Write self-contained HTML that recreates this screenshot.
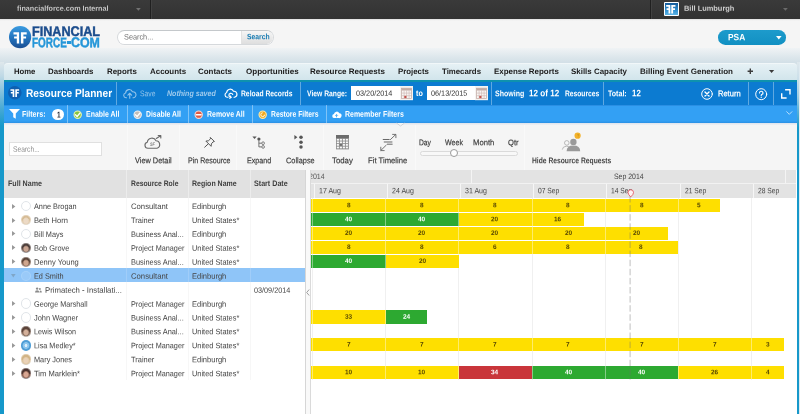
<!DOCTYPE html>
<html><head><meta charset="utf-8"><title>Resource Planner</title>
<style>
html,body{margin:0;padding:0;}
body{width:800px;height:414px;position:relative;overflow:hidden;background:#fff;font-family:"Liberation Sans", sans-serif;}
.t{position:absolute;white-space:pre;transform-origin:0 50%;font-family:"Liberation Sans", sans-serif;}
div{box-sizing:border-box;}
svg{position:absolute;overflow:visible;}
</style></head><body>
<div style="position:absolute;left:0px;top:0px;width:800px;height:19.0px;background:linear-gradient(#3a3a3a,#323232);"></div>
<div style="position:absolute;left:150px;top:0px;width:1px;height:19px;background:#202020;"></div>
<div style="position:absolute;left:151px;top:0px;width:1px;height:19px;background:#424242;"></div>
<div style="position:absolute;left:650px;top:0px;width:1px;height:19px;background:#202020;"></div>
<div style="position:absolute;left:651px;top:0px;width:1px;height:19px;background:#424242;"></div>
<div style="position:absolute;left:0px;top:19.0px;width:800px;height:29.2px;background:linear-gradient(#dcdcdc 0,#f1f1f1 1.2px,#f5f5f5 2.5px,#f5f5f5 100%);"></div>
<div style="position:absolute;left:0px;top:48.2px;width:800px;height:33px;background:linear-gradient(#f0f3f5 0,#dde7ec 9px,#d3e0e7 14.5px,#d3e0e7 100%);"></div>
<div style="position:absolute;left:0px;top:62px;width:4.1px;height:352px;background:linear-gradient(to bottom,#dfe8ec 0px,#bfd9e6 14px,#8cc4de 28px,#4aaad5 46px,#1698ca 64px,#1698ca 100%);"></div>
<div style="position:absolute;left:797.0px;top:62px;width:2.4px;height:352px;background:linear-gradient(to bottom,#dfe8ec 0px,#c9dfea 18px,#9fcde2 34px,#55afd7 50px,#1698ca 66px,#1698ca 100%);"></div>
<div style="position:absolute;left:799.2px;top:62px;width:1px;height:352px;background:#dfeaf0;"></div>
<div style="position:absolute;left:4px;top:62.6px;width:792.7px;height:18px;background:linear-gradient(#e6f1f5,#d0e4eb);border-radius:4px 4px 0 0;border-top:1px solid #f1f7f9;"></div>
<div style="position:absolute;left:4px;top:80.1px;width:792.7px;height:1.7px;background:#0e92ae;"></div>
<div style="position:absolute;left:4.1px;top:81.6px;width:792.9px;height:23.1px;background:#0c7bd1;"></div>
<div style="position:absolute;left:4.1px;top:104.7px;width:792.9px;height:18.6px;background:linear-gradient(#33a0f4 0,#33a0f4 88%,#2b90e4 100%);"></div>
<div style="position:absolute;left:4.1px;top:104.5px;width:792.9px;height:0.8px;background:#2a8fe4;"></div>
<div style="position:absolute;left:4.1px;top:123.3px;width:792.9px;height:47px;background:#f5f5f5;"></div>
<div style="position:absolute;left:4.1px;top:123.3px;width:792.9px;height:1.6px;background:linear-gradient(#dde3ec,#f0f1f3);"></div>
<div style="position:absolute;left:4.1px;top:170px;width:300.9px;height:27.8px;background:#e1e1e1;"></div>
<div style="position:absolute;left:4.1px;top:197.8px;width:300.9px;height:216.2px;background:#fff;"></div>
<div style="position:absolute;left:305px;top:170px;width:5.6px;height:244px;background:#f9f9f9;border-left:1px solid #d6d6d6;border-right:1px solid #dadada;"></div>
<div style="position:absolute;left:310.5px;top:170px;width:485.4px;height:13.3px;background:#e3e3e3;"></div>
<div style="position:absolute;left:310.5px;top:183.3px;width:485.4px;height:14.5px;background:#e3e3e3;border-top:1px solid #f2f2f2;"></div>
<div style="position:absolute;left:310.5px;top:197.8px;width:486.5px;height:216.2px;background:#fff;"></div>
<svg style="left:135.6px;top:7.8px" width="5" height="3"><path d="M0,0H4.8L2.4,2.8Z" fill="#727272"/></svg>
<svg style="left:783.4px;top:7.8px" width="5" height="3"><path d="M0,0H4.8L2.4,2.8Z" fill="#6a6a6a"/></svg>
<div style="position:absolute;left:663.6px;top:1.6px;width:15.2px;height:14.6px;background:#fff;border-radius:1px;"></div>
<div style="position:absolute;left:664.7px;top:2.7px;width:13px;height:12.4px;background:linear-gradient(#155a99,#2f8fd0 60%,#5cb4e6);"></div>
<svg style="left:666.4px;top:4.6px" width="9.6" height="8.6" viewBox="0 0 13.4 12.4"><g fill="#fff"><path d="M7.4,0h6v2.6h-3.4v2.1h2.8v2.5h-2.8v5.2h-2.6z"/><path d="M6,0h-6v2.6h3.4v2.1h-2.8v2.5h2.8v5.2h2.6z"/></g></svg>
<svg style="left:8.7px;top:25.8px" width="22.2" height="22.2" viewBox="0 0 22.2 22.2">
<defs><linearGradient id="lg1" x1="0" y1="0" x2="0" y2="1"><stop offset="0" stop-color="#3a9be0"/><stop offset="0.55" stop-color="#2273bd"/><stop offset="1" stop-color="#1b4f93"/></linearGradient></defs>
<circle cx="11.1" cy="11.1" r="11.1" fill="url(#lg1)"/>
<g fill="#fff"><path d="M11.9,6.2h5.8v2.3h-3.3v1.9h2.7v2.2h-2.7v4.9h-2.5z"/><path d="M10.3,6.2h-5.8v2.3h3.3v1.9h-2.7v2.2h2.7v4.9h2.5z"/></g>
<path d="M10.6,4.5v13.8" stroke="#2b7fc8" stroke-width="0.7"/>
</svg>
<div style="position:absolute;left:67.4px;top:41.2px;width:3.4px;height:2.6px;background:#2596d8;"></div>
<div style="position:absolute;left:117.3px;top:29.8px;width:156.7px;height:14.8px;background:#fff;border:1px solid #d6d9dc;border-top-color:#c4c8cb;border-radius:7.4px;box-shadow:0 1px 0 #f8f8f8;"></div>
<div style="position:absolute;left:241px;top:30.6px;width:32.2px;height:13.2px;background:linear-gradient(#f6f6f6,#dedede);border-radius:0 6.6px 6.6px 0;border-left:1px solid #e2e2e2;"></div>
<div style="position:absolute;left:717.5px;top:30px;width:68.3px;height:14.6px;background:linear-gradient(#1d9bcc,#1290c2);border-radius:7.3px;"></div>
<svg style="left:776.3px;top:35.6px" width="6" height="4"><path d="M0,0H5.6L2.8,3.4Z" fill="#fff"/></svg>
<svg style="left:746.5px;top:68.2px" width="7" height="7"><path d="M3.3,0.6V6M0.6,3.3H6" stroke="#3c3c3c" stroke-width="1.4"/></svg>
<svg style="left:769.4px;top:70px" width="6" height="4"><path d="M0,0H5.2L2.6,3Z" fill="#3a3a3a"/></svg>
<svg style="left:8px;top:86px" width="13.6" height="13.6" viewBox="0 0 22.2 22.2">
<circle cx="11.1" cy="11.1" r="11.1" fill="#0f5fb0"/>
<g fill="#fff"><path d="M11.9,5.2h6.3v2.6h-3.6v2.1h3v2.5h-3v5.6h-2.7z"/><path d="M10.3,5.2h-6.3v2.6h3.6v2.1h-3v2.5h3v5.6h2.7z"/></g>
</svg>
<div style="position:absolute;left:115.7px;top:81.5px;width:1px;height:23.0px;background:rgba(255,255,255,0.35);"></div>
<svg style="left:122.5px;top:88.2px;opacity:.55" width="13.5" height="11" viewBox="0 0 27 22" fill="none" stroke="#fff" stroke-width="2.2" stroke-linejoin="round" stroke-linecap="round">
<path d="M7,19.5H6A4.8,4.8 0 0 1 5.3,10A7,7 0 0 1 18.8,7.6A6,6 0 0 1 21,19.5H20"/><path d="M13.5,20.5V11M9.8,14.2L13.5,10.5L17.2,14.2"/></svg>
<svg style="left:223.5px;top:87.6px" width="13.8" height="12" viewBox="0 0 27.6 24" fill="none" stroke="#fff" stroke-width="2.3" stroke-linejoin="round" stroke-linecap="round">
<path d="M8,18.5H6.2A4.9,4.9 0 0 1 5.4,9A7.1,7.1 0 0 1 19,6.6A6.1,6.1 0 0 1 21.5,18.5H20"/><path d="M17.5,13A4,4 0 1 0 14,18.5"/><path d="M11.5,20.8L14.3,18.6L12.2,15.8" /></svg>
<div style="position:absolute;left:300.0px;top:81.5px;width:1px;height:23.0px;background:rgba(255,255,255,0.35);"></div>
<div style="position:absolute;left:351.2px;top:86px;width:48.6px;height:14.2px;background:#fff;"></div>
<svg style="left:399.6px;top:86px" width="13" height="14.2" viewBox="0 0 13 14.2">
<rect x="0" y="0" width="13" height="14.2" fill="#f6f3f1"/>
<rect x="1.6" y="2.2" width="10" height="10.2" fill="#faf6f4" stroke="#bfa8a3" stroke-width="0.7"/>
<rect x="1.6" y="2.2" width="10" height="2.3" fill="#c2aca6"/>
<path d="M4.1,4.5V12.4M6.6,4.5V12.4M9.1,4.5V12.4M1.6,7.1H11.6M1.6,9.7H11.6" stroke="#c9b3ae" stroke-width="0.6"/>
<rect x="4.3" y="9.9" width="2.1" height="2.2" fill="#c4504a"/>
</svg>
<div style="position:absolute;left:426.9px;top:86px;width:48.7px;height:14.2px;background:#fff;"></div>
<svg style="left:475.4px;top:86px" width="13" height="14.2" viewBox="0 0 13 14.2">
<rect x="0" y="0" width="13" height="14.2" fill="#f6f3f1"/>
<rect x="1.6" y="2.2" width="10" height="10.2" fill="#faf6f4" stroke="#bfa8a3" stroke-width="0.7"/>
<rect x="1.6" y="2.2" width="10" height="2.3" fill="#c2aca6"/>
<path d="M4.1,4.5V12.4M6.6,4.5V12.4M9.1,4.5V12.4M1.6,7.1H11.6M1.6,9.7H11.6" stroke="#c9b3ae" stroke-width="0.6"/>
<rect x="4.3" y="9.9" width="2.1" height="2.2" fill="#c4504a"/>
</svg>
<div style="position:absolute;left:490.7px;top:81.5px;width:1px;height:23.0px;background:rgba(255,255,255,0.35);"></div>
<div style="position:absolute;left:603.1px;top:81.5px;width:1px;height:23.0px;background:rgba(255,255,255,0.35);"></div>
<svg style="left:700.6px;top:88.2px" width="12" height="12" viewBox="0 0 12 12" fill="none" stroke="#fff" stroke-linecap="round">
<circle cx="6" cy="6" r="5.3" stroke-width="1"/><path d="M4,4L8,8M8,4L4,8" stroke-width="1.4"/></svg>
<div style="position:absolute;left:748.0px;top:81.5px;width:1px;height:23.0px;background:rgba(255,255,255,0.35);"></div>
<svg style="left:754.9px;top:87.8px" width="12.4" height="12.4" viewBox="0 0 12.6 12.6" fill="none" stroke="#fff" stroke-linecap="round">
<circle cx="6.3" cy="6.3" r="5.6" stroke-width="1"/><path d="M4.6,5.1A1.75,1.75 0 1 1 6.9,6.7Q6.3,7 6.3,7.8" stroke-width="1.1"/><circle cx="6.3" cy="9.6" r="0.6" fill="#fff" stroke="none"/></svg>
<div style="position:absolute;left:772.7px;top:81.5px;width:1px;height:23.0px;background:rgba(255,255,255,0.35);"></div>
<svg style="left:780.8px;top:89.1px" width="9.7" height="9.7" viewBox="0 0 10.4 10.4" fill="none" stroke="#fff" stroke-width="1.5">
<path d="M4.4,0.75H9.65V6"/><path d="M0.75,4.6V9.65H6"/></svg>
<svg style="left:8.9px;top:108.8px" width="11" height="9.8" viewBox="0 0 10.4 9.8" preserveAspectRatio="none"><path d="M0,0H10.4L6.4,4.6V9.8L4,8.2V4.6Z" fill="#fff"/></svg>
<div style="position:absolute;left:52.1px;top:108.9px;width:11.8px;height:11.6px;background:#fff;border-radius:6px;"></div>
<div style="position:absolute;left:67.0px;top:105px;width:1px;height:18.299999999999997px;background:rgba(255,255,255,0.38);"></div>
<svg style="left:73.2px;top:109.8px" width="9.4" height="9.4" viewBox="0 0 9.4 9.4"><circle cx="4.7" cy="4.7" r="3.65" fill="#86c440" stroke="#e6f2b0" stroke-width="1.15"/><path d="M2.5,4.8L4.1,6.5L7,3" fill="none" stroke="#fff" stroke-width="1.3" stroke-linecap="round" stroke-linejoin="round"/></svg>
<div style="position:absolute;left:127.0px;top:105px;width:1px;height:18.299999999999997px;background:rgba(255,255,255,0.38);"></div>
<svg style="left:132.9px;top:109.8px" width="9.4" height="9.4" viewBox="0 0 9.4 9.4"><circle cx="4.7" cy="4.7" r="3.65" fill="#c4bcb6" stroke="#e9eef4" stroke-width="1.15"/><path d="M2.5,4.8L4.1,6.5L7,3" fill="none" stroke="#fff" stroke-width="1.3" stroke-linecap="round" stroke-linejoin="round"/></svg>
<div style="position:absolute;left:187.7px;top:105px;width:1px;height:18.299999999999997px;background:rgba(255,255,255,0.38);"></div>
<svg style="left:194.4px;top:109.8px" width="9.4" height="9.4" viewBox="0 0 9.4 9.4"><circle cx="4.7" cy="4.7" r="3.65" fill="#e05a45" stroke="#f8d8d0" stroke-width="1.15"/><path d="M2.4,4.7H7" stroke="#fff" stroke-width="1.5" stroke-linecap="round"/></svg>
<div style="position:absolute;left:252.0px;top:105px;width:1px;height:18.299999999999997px;background:rgba(255,255,255,0.38);"></div>
<svg style="left:258px;top:109.8px" width="9.4" height="9.4" viewBox="0 0 9.4 9.4"><circle cx="4.7" cy="4.7" r="3.65" fill="#f2a81e" stroke="#fbe9a8" stroke-width="1.15"/><path d="M6.6,4.7A1.9,1.9 0 1 1 4.7,2.8" fill="none" stroke="#fff7e0" stroke-width="1"/></svg>
<div style="position:absolute;left:326.1px;top:105px;width:1px;height:18.299999999999997px;background:rgba(255,255,255,0.38);"></div>
<svg style="left:332.2px;top:110.5px" width="9.1" height="7.2" viewBox="0 0 19.6 15.2"><path d="M5,15.2A4.6,4.6 0 0 1 4.2,6.1A6.2,6.2 0 0 1 15.8,4.6A5.3,5.3 0 0 1 15,15.2Z" fill="#fff"/><path d="M9.8,13.5V8M7,10L9.8,7.2L12.6,10" fill="none" stroke="#33a0f4" stroke-width="1.8"/></svg>
<svg style="left:785.8px;top:111px" width="6.6" height="4.2" viewBox="0 0 8 5"><path d="M0.5,0.5L4,4L7.5,0.5" fill="none" stroke="rgba(255,255,255,.7)" stroke-width="1.1"/></svg>
<svg style="left:396px;top:123.3px" width="9" height="4" viewBox="0 0 9 4"><path d="M0.5,0L4.5,3L8.5,0" fill="#f5f5f5" stroke="#c9ccd0" stroke-width="0.8"/></svg>
<div style="position:absolute;left:127.1px;top:124.5px;width:1px;height:45.5px;background:#f9f9f9;"></div>
<div style="position:absolute;left:178.7px;top:124.5px;width:1px;height:45.5px;background:#f9f9f9;"></div>
<div style="position:absolute;left:235.7px;top:124.5px;width:1px;height:45.5px;background:#f9f9f9;"></div>
<div style="position:absolute;left:323.2px;top:124.5px;width:1px;height:45.5px;background:#f9f9f9;"></div>
<div style="position:absolute;left:414.5px;top:124.5px;width:1px;height:45.5px;background:#f9f9f9;"></div>
<div style="position:absolute;left:523.7px;top:124.5px;width:1px;height:45.5px;background:#f9f9f9;"></div>
<div style="position:absolute;left:9.2px;top:142.2px;width:92.6px;height:14.2px;background:#fff;border:1px solid #e0e0e0;"></div>
<div style="position:absolute;left:419.5px;top:150.6px;width:98.2px;height:5px;background:#f8f8f8;border:1px solid #dadada;border-radius:2.5px;"></div>
<div style="position:absolute;left:449.8px;top:149.2px;width:8px;height:8px;background:#fff;border:1.7px solid #9a9a9a;border-radius:4px;"></div>
<svg style="left:144.4px;top:135px" width="17.6" height="14" viewBox="0 0 17.6 14" fill="none" stroke="#6a6a6a" stroke-width="1.15" stroke-linecap="round" stroke-linejoin="round">
<path d="M3.9,13.3A3.1,3.1 0 0 1 3.3,7.2A4.6,4.6 0 0 1 12,5.7A3.9,3.9 0 0 1 13,13.3Z"/>
<path d="M12.3,3.5L16.6,0.7M14.2,0.5H16.8V3"/>
</svg>
<svg style="left:203.4px;top:136.6px" width="12" height="11" viewBox="0 0 12 11" fill="none" stroke="#555" stroke-width="1" stroke-linejoin="round" stroke-linecap="round">
<path d="M7.6,0.7L11.4,4.5L10,4.9L8.4,6.8L8.1,9.3L2.9,4.1L5.4,3.8L7.2,2.1Z"/><path d="M5.2,6.9L1.7,10.2"/></svg>
<svg style="left:251.6px;top:135.6px" width="14" height="13" viewBox="0 0 14 13">
<path d="M0.4,0.5H4.7L2.55,3.1Z" fill="#555"/>
<circle cx="6.9" cy="3.0" r="1.6" fill="#555"/>
<path d="M6.9,4V10.9H9.7M6.9,7.2H9.7" fill="none" stroke="#707070" stroke-width="1"/>
<circle cx="11.1" cy="7.2" r="1.35" fill="none" stroke="#707070" stroke-width="0.9"/><circle cx="11.1" cy="10.9" r="1.35" fill="none" stroke="#707070" stroke-width="0.9"/></svg>
<svg style="left:293.6px;top:135.4px" width="10" height="14" viewBox="0 0 10 14">
<path d="M0.4,0.1V4.6L3.4,2.35Z" fill="#555"/>
<circle cx="7" cy="2.3" r="1.75" fill="#555"/><circle cx="7" cy="7.2" r="1.75" fill="#555"/><circle cx="7" cy="12.1" r="1.75" fill="#555"/></svg>
<svg style="left:335.9px;top:135.2px" width="12.9" height="14.4" viewBox="0 0 12.9 14.4">
<rect x="0" y="0" width="12.9" height="14.4" fill="#8e8e8e"/>
<rect x="0" y="0" width="12.9" height="3.2" fill="#6c6c6c"/>
<rect x="0.85" y="3.90" width="2.1" height="1.7" fill="#fafafa"/><rect x="3.85" y="3.90" width="2.1" height="1.7" fill="#fafafa"/><rect x="6.85" y="3.90" width="2.1" height="1.7" fill="#fafafa"/><rect x="9.85" y="3.90" width="2.1" height="1.7" fill="#fafafa"/><rect x="0.85" y="6.48" width="2.1" height="1.7" fill="#fafafa"/><rect x="3.85" y="6.48" width="2.1" height="1.7" fill="#fafafa"/><rect x="6.85" y="6.48" width="2.1" height="1.7" fill="#fafafa"/><rect x="9.85" y="6.48" width="2.1" height="1.7" fill="#fafafa"/><rect x="0.85" y="9.06" width="2.1" height="1.7" fill="#fafafa"/><rect x="3.85" y="9.06" width="2.1" height="1.7" fill="#707070"/><rect x="6.85" y="9.06" width="2.1" height="1.7" fill="#fafafa"/><rect x="9.85" y="9.06" width="2.1" height="1.7" fill="#fafafa"/><rect x="0.85" y="11.64" width="2.1" height="1.7" fill="#fafafa"/><rect x="3.85" y="11.64" width="2.1" height="1.7" fill="#fafafa"/><rect x="6.85" y="11.64" width="2.1" height="1.7" fill="#fafafa"/><rect x="9.85" y="11.64" width="2.1" height="1.7" fill="#fafafa"/>
</svg>
<svg style="left:379.8px;top:134.2px" width="17" height="17.4" viewBox="0 0 17 17.4" fill="none" stroke="#666" stroke-width="0.9" stroke-linecap="round" stroke-linejoin="round">
<path d="M10.4,5.6L15.7,0.5M12.6,0.4H15.9V3.7"/>
<path d="M6.2,11.2L0.9,16.4M0.8,13.2V16.6H4.2"/>
<path d="M3.2,5.5H9.2M4.2,8H12M7.4,10.2H12.2" stroke-width="1"/></svg>
<svg style="left:561px;top:133px" width="22" height="19" viewBox="0 0 22 19">
<circle cx="5.8" cy="9.9" r="2.3" fill="#f6f6f6" stroke="#a8a8a8" stroke-width="0.8"/>
<path d="M1.3,16.6Q1.5,13.4 5.6,13.2Q8,13.3 9.2,14.6" fill="#f6f6f6" stroke="#a8a8a8" stroke-width="0.8"/>
<circle cx="12.4" cy="8.9" r="3.2" fill="#9a9a9a"/>
<path d="M5.6,18.3Q5.6,12.6 12.4,12.6Q19.2,12.6 19.2,18.3Z" fill="#9a9a9a"/>
<circle cx="16.6" cy="2.7" r="3.1" fill="#f3b22b"/>
</svg>
<div style="position:absolute;left:126.0px;top:170px;width:1px;height:27.8px;background:#ececec;"></div>
<div style="position:absolute;left:187.7px;top:170px;width:1px;height:27.8px;background:#ececec;"></div>
<div style="position:absolute;left:249.7px;top:170px;width:1px;height:27.8px;background:#ececec;"></div>
<div style="position:absolute;left:126.0px;top:197.8px;width:1px;height:182px;background:#f7f7f7;"></div>
<div style="position:absolute;left:187.7px;top:197.8px;width:1px;height:182px;background:#f7f7f7;"></div>
<div style="position:absolute;left:249.7px;top:197.8px;width:1px;height:182px;background:#f7f7f7;"></div>
<svg style="left:12.2px;top:203.57px" width="4" height="6"><path d="M0,0V5L3.4,2.5Z" fill="#999"/></svg>
<div style="position:absolute;left:20.7px;top:200.965px;width:10.4px;height:10.4px;background:#fff;border:1px solid #e1e5e9;border-radius:5.2px;"></div>
<svg style="left:12.2px;top:217.50px" width="4" height="6"><path d="M0,0V5L3.4,2.5Z" fill="#999"/></svg>
<div style="position:absolute;left:20.7px;top:214.895px;width:10.4px;height:10.4px;background:radial-gradient(ellipse 3.3px 3.7px at 50% 60%,#ecdac6 0 60%,#e3cfb2 92%,transparent 100%),linear-gradient(#d6bc96 0 48%,#e3cfb2 62%,#cdbfae 100%);border-radius:5.2px;box-shadow:inset 0 0 0 0.7px rgba(255,255,255,0.4);"></div>
<svg style="left:12.2px;top:231.43px" width="4" height="6"><path d="M0,0V5L3.4,2.5Z" fill="#999"/></svg>
<div style="position:absolute;left:20.7px;top:228.82500000000002px;width:10.4px;height:10.4px;background:#fff;border:1px solid #e1e5e9;border-radius:5.2px;"></div>
<svg style="left:12.2px;top:245.36px" width="4" height="6"><path d="M0,0V5L3.4,2.5Z" fill="#999"/></svg>
<div style="position:absolute;left:20.7px;top:242.755px;width:10.4px;height:10.4px;background:radial-gradient(ellipse 3.3px 3.7px at 50% 60%,#c9a592 0 60%,#7a6258 92%,transparent 100%),linear-gradient(#4e403c 0 48%,#7a6258 62%,#6f747c 100%);border-radius:5.2px;box-shadow:inset 0 0 0 0.7px rgba(255,255,255,0.4);"></div>
<svg style="left:12.2px;top:259.29px" width="4" height="6"><path d="M0,0V5L3.4,2.5Z" fill="#999"/></svg>
<div style="position:absolute;left:20.7px;top:256.685px;width:10.4px;height:10.4px;background:radial-gradient(ellipse 3.3px 3.7px at 50% 60%,#cfa68e 0 60%,#8a6a58 92%,transparent 100%),linear-gradient(#5c463a 0 48%,#8a6a58 62%,#80706a 100%);border-radius:5.2px;box-shadow:inset 0 0 0 0.7px rgba(255,255,255,0.4);"></div>
<div style="position:absolute;left:4.1px;top:268.30000000000007px;width:300.9px;height:13.93px;background:#8fc5f8;"></div>
<div style="position:absolute;left:126.0px;top:268.30000000000007px;width:1px;height:13.93px;background:#a0cdf9;"></div>
<div style="position:absolute;left:187.7px;top:268.30000000000007px;width:1px;height:13.93px;background:#a0cdf9;"></div>
<div style="position:absolute;left:249.7px;top:268.30000000000007px;width:1px;height:13.93px;background:#a0cdf9;"></div>
<svg style="left:11.2px;top:274.31px" width="5" height="4"><path d="M0,0H4.6L2.3,3.4Z" fill="#7fa6c8"/></svg>
<div style="position:absolute;left:20.7px;top:270.615px;width:10.4px;height:10.4px;background:rgba(255,255,255,0.10);border:1px solid rgba(255,255,255,0.12);border-radius:5.2px;"></div>
<svg style="left:35.2px;top:286.64px" width="6.8" height="6" viewBox="0 0 6.4 5.6" fill="#8a8a8a"><circle cx="2" cy="1.5" r="1.1"/><path d="M0,5.2Q0,3 2,3Q4,3 4,5.2Z"/><circle cx="4.6" cy="1.9" r="0.9"/><path d="M4.2,5.2Q4.4,3.4 5.2,3.3Q6.4,3.4 6.4,5.2Z"/></svg>
<svg style="left:12.2px;top:301.07px" width="4" height="6"><path d="M0,0V5L3.4,2.5Z" fill="#999"/></svg>
<div style="position:absolute;left:20.7px;top:298.47499999999997px;width:10.4px;height:10.4px;background:#fff;border:1px solid #e1e5e9;border-radius:5.2px;"></div>
<svg style="left:12.2px;top:315.00px" width="4" height="6"><path d="M0,0V5L3.4,2.5Z" fill="#999"/></svg>
<div style="position:absolute;left:20.7px;top:312.405px;width:10.4px;height:10.4px;background:#fff;border:1px solid #e1e5e9;border-radius:5.2px;"></div>
<svg style="left:12.2px;top:328.94px" width="4" height="6"><path d="M0,0V5L3.4,2.5Z" fill="#999"/></svg>
<div style="position:absolute;left:20.7px;top:326.335px;width:10.4px;height:10.4px;background:radial-gradient(ellipse 3.3px 3.7px at 50% 60%,#d4b09a 0 60%,#8a6e5e 92%,transparent 100%),linear-gradient(#5a4238 0 48%,#8a6e5e 62%,#a09890 100%);border-radius:5.2px;box-shadow:inset 0 0 0 0.7px rgba(255,255,255,0.4);"></div>
<svg style="left:12.2px;top:342.87px" width="4" height="6"><path d="M0,0V5L3.4,2.5Z" fill="#999"/></svg>
<div style="position:absolute;left:20.7px;top:340.265px;width:10.4px;height:10.4px;background:radial-gradient(circle at 50% 50%,#dff0fb 0 1.1px,#8cc6ee 1.7px 3px,#4f9ed6 3.7px);border-radius:5.2px;"></div>
<svg style="left:12.2px;top:356.79px" width="4" height="6"><path d="M0,0V5L3.4,2.5Z" fill="#999"/></svg>
<div style="position:absolute;left:20.7px;top:354.19499999999994px;width:10.4px;height:10.4px;background:radial-gradient(ellipse 3.3px 3.7px at 50% 60%,#ead2b8 0 60%,#e0c8a4 92%,transparent 100%),linear-gradient(#d2b486 0 48%,#e0c8a4 62%,#c4b4a0 100%);border-radius:5.2px;box-shadow:inset 0 0 0 0.7px rgba(255,255,255,0.4);"></div>
<svg style="left:12.2px;top:370.73px" width="4" height="6"><path d="M0,0V5L3.4,2.5Z" fill="#999"/></svg>
<div style="position:absolute;left:20.7px;top:368.125px;width:10.4px;height:10.4px;background:radial-gradient(ellipse 3.3px 3.7px at 50% 60%,#d8a692 0 60%,#946a5a 92%,transparent 100%),linear-gradient(#4c3430 0 48%,#946a5a 62%,#5e5458 100%);border-radius:5.2px;box-shadow:inset 0 0 0 0.7px rgba(255,255,255,0.4);"></div>
<svg style="left:305.8px;top:288.6px" width="4" height="7"><path d="M3.2,0.5L0.7,3.5L3.2,6.5" fill="none" stroke="#888" stroke-width="0.8"/></svg>
<div style="position:absolute;left:470.6px;top:170px;width:1px;height:13.3px;background:#f4f4f4;"></div>
<div style="position:absolute;left:785.3px;top:170px;width:1px;height:13.3px;background:#f4f4f4;"></div>
<div style="position:absolute;left:313.64px;top:184px;width:1px;height:13.8px;background:#f6f6f6;"></div>
<div style="position:absolute;left:312.0px;top:197.8px;width:1px;height:182px;background:#f0f0f0;"></div>
<div style="position:absolute;left:386.84999999999997px;top:184px;width:1px;height:13.8px;background:#f6f6f6;"></div>
<div style="position:absolute;left:385.17px;top:197.8px;width:1px;height:182px;background:#f0f0f0;"></div>
<div style="position:absolute;left:460.05999999999995px;top:184px;width:1px;height:13.8px;background:#f6f6f6;"></div>
<div style="position:absolute;left:458.34000000000003px;top:197.8px;width:1px;height:182px;background:#f0f0f0;"></div>
<div style="position:absolute;left:533.27px;top:184px;width:1px;height:13.8px;background:#f6f6f6;"></div>
<div style="position:absolute;left:531.51px;top:197.8px;width:1px;height:182px;background:#f0f0f0;"></div>
<div style="position:absolute;left:606.48px;top:184px;width:1px;height:13.8px;background:#f6f6f6;"></div>
<div style="position:absolute;left:604.6800000000001px;top:197.8px;width:1px;height:182px;background:#f0f0f0;"></div>
<div style="position:absolute;left:679.6899999999999px;top:184px;width:1px;height:13.8px;background:#f6f6f6;"></div>
<div style="position:absolute;left:677.85px;top:197.8px;width:1px;height:182px;background:#f0f0f0;"></div>
<div style="position:absolute;left:752.9px;top:184px;width:1px;height:13.8px;background:#f6f6f6;"></div>
<div style="position:absolute;left:751.02px;top:197.8px;width:1px;height:182px;background:#f0f0f0;"></div>
<div style="position:absolute;left:310.5px;top:198.87px;width:75.17000000000002px;height:13.3px;background:#fedf00;"></div>
<div style="position:absolute;left:312.1px;top:198.87px;width:0.9px;height:13.3px;background:rgba(255,255,255,0.42);"></div>
<div style="position:absolute;left:385.67px;top:198.87px;width:73.17000000000002px;height:13.3px;background:#fedf00;"></div>
<div style="position:absolute;left:385.27000000000004px;top:198.87px;width:0.9px;height:13.3px;background:rgba(255,255,255,0.42);"></div>
<div style="position:absolute;left:458.84000000000003px;top:198.87px;width:73.16999999999996px;height:13.3px;background:#fedf00;"></div>
<div style="position:absolute;left:458.44000000000005px;top:198.87px;width:0.9px;height:13.3px;background:rgba(255,255,255,0.42);"></div>
<div style="position:absolute;left:532.01px;top:198.87px;width:73.17000000000007px;height:13.3px;background:#fedf00;"></div>
<div style="position:absolute;left:531.61px;top:198.87px;width:0.9px;height:13.3px;background:rgba(255,255,255,0.42);"></div>
<div style="position:absolute;left:605.1800000000001px;top:198.87px;width:73.16999999999996px;height:13.3px;background:#fedf00;"></div>
<div style="position:absolute;left:604.7800000000001px;top:198.87px;width:0.9px;height:13.3px;background:rgba(255,255,255,0.42);"></div>
<div style="position:absolute;left:678.35px;top:198.87px;width:41.64999999999998px;height:13.3px;background:#fedf00;"></div>
<div style="position:absolute;left:677.95px;top:198.87px;width:0.9px;height:13.3px;background:rgba(255,255,255,0.42);"></div>
<div style="position:absolute;left:310.5px;top:212.8px;width:75.17000000000002px;height:13.3px;background:#2da931;"></div>
<div style="position:absolute;left:312.1px;top:212.8px;width:0.9px;height:13.3px;background:rgba(255,255,255,0.42);"></div>
<div style="position:absolute;left:385.67px;top:212.8px;width:73.17000000000002px;height:13.3px;background:#2da931;"></div>
<div style="position:absolute;left:385.27000000000004px;top:212.8px;width:0.9px;height:13.3px;background:rgba(255,255,255,0.42);"></div>
<div style="position:absolute;left:458.84000000000003px;top:212.8px;width:73.16999999999996px;height:13.3px;background:#fedf00;"></div>
<div style="position:absolute;left:458.44000000000005px;top:212.8px;width:0.9px;height:13.3px;background:rgba(255,255,255,0.42);"></div>
<div style="position:absolute;left:532.01px;top:212.8px;width:51.99000000000001px;height:13.3px;background:#fedf00;"></div>
<div style="position:absolute;left:531.61px;top:212.8px;width:0.9px;height:13.3px;background:rgba(255,255,255,0.42);"></div>
<div style="position:absolute;left:310.5px;top:226.73000000000002px;width:75.17000000000002px;height:13.3px;background:#fedf00;"></div>
<div style="position:absolute;left:312.1px;top:226.73000000000002px;width:0.9px;height:13.3px;background:rgba(255,255,255,0.42);"></div>
<div style="position:absolute;left:385.67px;top:226.73000000000002px;width:73.17000000000002px;height:13.3px;background:#fedf00;"></div>
<div style="position:absolute;left:385.27000000000004px;top:226.73000000000002px;width:0.9px;height:13.3px;background:rgba(255,255,255,0.42);"></div>
<div style="position:absolute;left:458.84000000000003px;top:226.73000000000002px;width:73.16999999999996px;height:13.3px;background:#fedf00;"></div>
<div style="position:absolute;left:458.44000000000005px;top:226.73000000000002px;width:0.9px;height:13.3px;background:rgba(255,255,255,0.42);"></div>
<div style="position:absolute;left:532.01px;top:226.73000000000002px;width:73.17000000000007px;height:13.3px;background:#fedf00;"></div>
<div style="position:absolute;left:531.61px;top:226.73000000000002px;width:0.9px;height:13.3px;background:rgba(255,255,255,0.42);"></div>
<div style="position:absolute;left:605.1800000000001px;top:226.73000000000002px;width:63.319999999999936px;height:13.3px;background:#fedf00;"></div>
<div style="position:absolute;left:604.7800000000001px;top:226.73000000000002px;width:0.9px;height:13.3px;background:rgba(255,255,255,0.42);"></div>
<div style="position:absolute;left:310.5px;top:240.66px;width:75.17000000000002px;height:13.3px;background:#fedf00;"></div>
<div style="position:absolute;left:312.1px;top:240.66px;width:0.9px;height:13.3px;background:rgba(255,255,255,0.42);"></div>
<div style="position:absolute;left:385.67px;top:240.66px;width:73.17000000000002px;height:13.3px;background:#fedf00;"></div>
<div style="position:absolute;left:385.27000000000004px;top:240.66px;width:0.9px;height:13.3px;background:rgba(255,255,255,0.42);"></div>
<div style="position:absolute;left:458.84000000000003px;top:240.66px;width:73.16999999999996px;height:13.3px;background:#fedf00;"></div>
<div style="position:absolute;left:458.44000000000005px;top:240.66px;width:0.9px;height:13.3px;background:rgba(255,255,255,0.42);"></div>
<div style="position:absolute;left:532.01px;top:240.66px;width:73.17000000000007px;height:13.3px;background:#fedf00;"></div>
<div style="position:absolute;left:531.61px;top:240.66px;width:0.9px;height:13.3px;background:rgba(255,255,255,0.42);"></div>
<div style="position:absolute;left:605.1800000000001px;top:240.66px;width:72.81999999999994px;height:13.3px;background:#fedf00;"></div>
<div style="position:absolute;left:604.7800000000001px;top:240.66px;width:0.9px;height:13.3px;background:rgba(255,255,255,0.42);"></div>
<div style="position:absolute;left:310.5px;top:254.59px;width:75.17000000000002px;height:13.3px;background:#2da931;"></div>
<div style="position:absolute;left:312.1px;top:254.59px;width:0.9px;height:13.3px;background:rgba(255,255,255,0.42);"></div>
<div style="position:absolute;left:385.67px;top:254.59px;width:73.82999999999998px;height:13.3px;background:#fedf00;"></div>
<div style="position:absolute;left:385.27000000000004px;top:254.59px;width:0.9px;height:13.3px;background:rgba(255,255,255,0.42);"></div>
<div style="position:absolute;left:310.5px;top:310.31px;width:75.17000000000002px;height:13.3px;background:#fedf00;"></div>
<div style="position:absolute;left:312.1px;top:310.31px;width:0.9px;height:13.3px;background:rgba(255,255,255,0.42);"></div>
<div style="position:absolute;left:385.67px;top:310.31px;width:41.829999999999984px;height:13.3px;background:#2da931;"></div>
<div style="position:absolute;left:385.27000000000004px;top:310.31px;width:0.9px;height:13.3px;background:rgba(255,255,255,0.42);"></div>
<div style="position:absolute;left:310.5px;top:338.17px;width:75.17000000000002px;height:13.3px;background:#fedf00;"></div>
<div style="position:absolute;left:312.1px;top:338.17px;width:0.9px;height:13.3px;background:rgba(255,255,255,0.42);"></div>
<div style="position:absolute;left:385.67px;top:338.17px;width:73.17000000000002px;height:13.3px;background:#fedf00;"></div>
<div style="position:absolute;left:385.27000000000004px;top:338.17px;width:0.9px;height:13.3px;background:rgba(255,255,255,0.42);"></div>
<div style="position:absolute;left:458.84000000000003px;top:338.17px;width:73.16999999999996px;height:13.3px;background:#fedf00;"></div>
<div style="position:absolute;left:458.44000000000005px;top:338.17px;width:0.9px;height:13.3px;background:rgba(255,255,255,0.42);"></div>
<div style="position:absolute;left:532.01px;top:338.17px;width:73.17000000000007px;height:13.3px;background:#fedf00;"></div>
<div style="position:absolute;left:531.61px;top:338.17px;width:0.9px;height:13.3px;background:rgba(255,255,255,0.42);"></div>
<div style="position:absolute;left:605.1800000000001px;top:338.17px;width:73.16999999999996px;height:13.3px;background:#fedf00;"></div>
<div style="position:absolute;left:604.7800000000001px;top:338.17px;width:0.9px;height:13.3px;background:rgba(255,255,255,0.42);"></div>
<div style="position:absolute;left:678.35px;top:338.17px;width:73.16999999999996px;height:13.3px;background:#fedf00;"></div>
<div style="position:absolute;left:677.95px;top:338.17px;width:0.9px;height:13.3px;background:rgba(255,255,255,0.42);"></div>
<div style="position:absolute;left:751.52px;top:338.17px;width:32.48000000000002px;height:13.3px;background:#fedf00;"></div>
<div style="position:absolute;left:751.12px;top:338.17px;width:0.9px;height:13.3px;background:rgba(255,255,255,0.42);"></div>
<div style="position:absolute;left:310.5px;top:366.03000000000003px;width:75.17000000000002px;height:13.3px;background:#fedf00;"></div>
<div style="position:absolute;left:312.1px;top:366.03000000000003px;width:0.9px;height:13.3px;background:rgba(255,255,255,0.42);"></div>
<div style="position:absolute;left:385.67px;top:366.03000000000003px;width:73.17000000000002px;height:13.3px;background:#fedf00;"></div>
<div style="position:absolute;left:385.27000000000004px;top:366.03000000000003px;width:0.9px;height:13.3px;background:rgba(255,255,255,0.42);"></div>
<div style="position:absolute;left:458.84000000000003px;top:366.03000000000003px;width:73.16999999999996px;height:13.3px;background:#c9353a;"></div>
<div style="position:absolute;left:458.44000000000005px;top:366.03000000000003px;width:0.9px;height:13.3px;background:rgba(255,255,255,0.42);"></div>
<div style="position:absolute;left:532.01px;top:366.03000000000003px;width:73.17000000000007px;height:13.3px;background:#2da931;"></div>
<div style="position:absolute;left:531.61px;top:366.03000000000003px;width:0.9px;height:13.3px;background:rgba(255,255,255,0.42);"></div>
<div style="position:absolute;left:605.1800000000001px;top:366.03000000000003px;width:73.16999999999996px;height:13.3px;background:#2da931;"></div>
<div style="position:absolute;left:604.7800000000001px;top:366.03000000000003px;width:0.9px;height:13.3px;background:rgba(255,255,255,0.42);"></div>
<div style="position:absolute;left:678.35px;top:366.03000000000003px;width:73.16999999999996px;height:13.3px;background:#fedf00;"></div>
<div style="position:absolute;left:677.95px;top:366.03000000000003px;width:0.9px;height:13.3px;background:rgba(255,255,255,0.42);"></div>
<div style="position:absolute;left:751.52px;top:366.03000000000003px;width:32.48000000000002px;height:13.3px;background:#fedf00;"></div>
<div style="position:absolute;left:751.12px;top:366.03000000000003px;width:0.9px;height:13.3px;background:rgba(255,255,255,0.42);"></div>
<svg style="left:629.4px;top:188px" width="2" height="214"><path d="M1.1,8V191.5" stroke="rgba(110,110,110,0.55)" stroke-width="0.8" stroke-dasharray="6.5 2.6"/></svg>
<div style="position:absolute;left:0;top:0;width:800px;height:414px;will-change:opacity;">
<span class="t" style="left:17px;top:2px;height:11px;line-height:11px;font-size:7.3px;color:#c6c6c6;transform:translateY(0.71px) rotate(0.04deg) scaleX(0.9854);font-weight:700;">financialforce.com Internal</span>
<span class="t" style="left:683.6px;top:2px;height:11px;line-height:11px;font-size:7.4px;color:#d0d0d0;transform:translateY(0.71px) rotate(0.04deg) scaleX(1.0061);font-weight:700;">Bill Lumburgh</span>
<span class="t" style="left:14.2px;top:65px;height:11px;line-height:11px;font-size:7.9px;color:#1c1c1c;transform:translateY(0.97px) rotate(0.04deg) scaleX(0.9755);font-weight:700;">Home</span>
<span class="t" style="left:48.3px;top:65px;height:11px;line-height:11px;font-size:7.9px;color:#1c1c1c;transform:translateY(0.96px) rotate(0.04deg) scaleX(0.9976);font-weight:700;">Dashboards</span>
<span class="t" style="left:106.6px;top:65px;height:11px;line-height:11px;font-size:7.9px;color:#1c1c1c;transform:translateY(0.96px) rotate(0.04deg) scaleX(0.9991);font-weight:700;">Reports</span>
<span class="t" style="left:149.5px;top:65px;height:11px;line-height:11px;font-size:7.9px;color:#1c1c1c;transform:translateY(0.95px) rotate(0.04deg) scaleX(1.0041);font-weight:700;">Accounts</span>
<span class="t" style="left:198.4px;top:65px;height:11px;line-height:11px;font-size:7.9px;color:#1c1c1c;transform:translateY(0.96px) rotate(0.04deg) scaleX(1.0069);font-weight:700;">Contacts</span>
<span class="t" style="left:245.5px;top:65px;height:11px;line-height:11px;font-size:7.9px;color:#1c1c1c;transform:translateY(0.96px) rotate(0.04deg) scaleX(1.0187);font-weight:700;">Opportunities</span>
<span class="t" style="left:310.3px;top:65px;height:11px;line-height:11px;font-size:7.9px;color:#1c1c1c;transform:translateY(0.97px) rotate(0.04deg) scaleX(1.0165);font-weight:700;">Resource Requests</span>
<span class="t" style="left:397.7px;top:65px;height:11px;line-height:11px;font-size:7.9px;color:#1c1c1c;transform:translateY(0.95px) rotate(0.04deg) scaleX(0.9923);font-weight:700;">Projects</span>
<span class="t" style="left:441.6px;top:65px;height:11px;line-height:11px;font-size:7.9px;color:#1c1c1c;transform:translateY(0.94px) rotate(0.04deg) scaleX(0.9913);font-weight:700;">Timecards</span>
<span class="t" style="left:493.5px;top:65px;height:11px;line-height:11px;font-size:7.9px;color:#1c1c1c;transform:translateY(0.96px) rotate(0.04deg) scaleX(1.0051);font-weight:700;">Expense Reports</span>
<span class="t" style="left:571.1px;top:65px;height:11px;line-height:11px;font-size:7.9px;color:#1c1c1c;transform:translateY(0.96px) rotate(0.04deg) scaleX(1.0053);font-weight:700;">Skills Capacity</span>
<span class="t" style="left:639.6px;top:65px;height:11px;line-height:11px;font-size:7.9px;color:#1c1c1c;transform:translateY(0.96px) rotate(0.04deg) scaleX(1.0148);font-weight:700;">Billing Event Generation</span>
<span class="t" style="left:32.2px;top:21px;height:19px;line-height:19px;font-size:14.0px;color:#1b4c8c;transform:translateY(0.90px) rotate(0.04deg) scaleX(0.9027);font-weight:700;-webkit-text-stroke:0.45px #1b4c8c;">FINANCIAL</span>
<span class="t" style="left:32.2px;top:33px;height:19px;line-height:19px;font-size:14.0px;color:#2596d8;transform:translateY(0.22px) rotate(0.04deg) scaleX(0.7102);font-weight:700;-webkit-text-stroke:0.45px #2596d8;">FORCE</span>
<span class="t" style="left:71.4px;top:33px;height:19px;line-height:19px;font-size:14.0px;color:#2596d8;transform:translateY(0.12px) rotate(0.04deg) scaleX(0.8846);font-weight:700;-webkit-text-stroke:0.45px #2596d8;">COM</span>
<span class="t" style="left:123.7px;top:31px;height:11px;line-height:11px;font-size:7.8px;color:#707070;transform:translateY(0.47px) rotate(0.04deg) scaleX(0.9390);">Search...</span>
<span class="t" style="left:246.8px;top:31px;height:11px;line-height:11px;font-size:7.8px;color:#1a7db3;transform:translateY(0.34px) rotate(0.04deg) scaleX(0.8726);font-weight:700;">Search</span>
<span class="t" style="left:727.6px;top:31px;height:13px;line-height:13px;font-size:9.2px;color:#fff;transform:translateY(0.32px) rotate(0.04deg) scaleX(0.9098);font-weight:700;">PSA</span>
<span class="t" style="left:25.7px;top:84px;height:16px;line-height:16px;font-size:11.4px;color:#fff;transform:translateY(0.90px) rotate(0.04deg) scaleX(0.8889);font-weight:700;">Resource Planner</span>
<span class="t" style="left:139.8px;top:88px;height:12px;line-height:12px;font-size:8.2px;color:#fff;transform:translateY(0.18px) rotate(0.04deg) scaleX(0.8248);opacity:0.55;">Save</span>
<span class="t" style="left:166.8px;top:88px;height:12px;line-height:12px;font-size:8.0px;color:#fff;transform:translateY(0.07px) rotate(0.04deg) scaleX(0.8853);font-weight:700;font-style:italic;opacity:0.6;">Nothing saved</span>
<span class="t" style="left:240.8px;top:87px;height:12px;line-height:12px;font-size:8.3px;color:#fff;transform:translateY(0.19px) rotate(0.04deg) scaleX(0.8137);font-weight:700;">Reload Records</span>
<span class="t" style="left:306.7px;top:87px;height:12px;line-height:12px;font-size:8.3px;color:#fff;transform:translateY(0.21px) rotate(0.04deg) scaleX(0.8152);font-weight:700;">View Range:</span>
<span class="t" style="left:356.2px;top:87px;height:11px;line-height:11px;font-size:7.6px;color:#333;transform:translateY(0.80px) rotate(0.04deg) scaleX(0.9575);">03/20/2014</span>
<span class="t" style="left:415.8px;top:86px;height:12px;line-height:12px;font-size:8.3px;color:#fff;transform:translateY(0.97px) rotate(0.04deg) scaleX(0.8669);font-weight:700;">to</span>
<span class="t" style="left:431.2px;top:87px;height:11px;line-height:11px;font-size:7.6px;color:#333;transform:translateY(0.80px) rotate(0.04deg) scaleX(0.9575);">06/13/2015</span>
<span class="t" style="left:495.3px;top:87px;height:12px;line-height:12px;font-size:8.3px;color:#fff;transform:translateY(0.20px) rotate(0.04deg) scaleX(0.8474);font-weight:700;">Showing</span>
<span class="t" style="left:529px;top:86px;height:13px;line-height:13px;font-size:9.4px;color:#fff;transform:translateY(0.25px) rotate(0.04deg) scaleX(0.8648);font-weight:700;">12 of 12</span>
<span class="t" style="left:564.6px;top:87px;height:12px;line-height:12px;font-size:8.3px;color:#fff;transform:translateY(0.20px) rotate(0.04deg) scaleX(0.8059);font-weight:700;">Resources</span>
<span class="t" style="left:608.3px;top:87px;height:12px;line-height:12px;font-size:8.3px;color:#fff;transform:translateY(0.19px) rotate(0.04deg) scaleX(0.8512);font-weight:700;">Total:</span>
<span class="t" style="left:632px;top:86px;height:13px;line-height:13px;font-size:9.4px;color:#fff;transform:translateY(0.24px) rotate(0.04deg) scaleX(0.8431);font-weight:700;">12</span>
<span class="t" style="left:717.6px;top:88px;height:12px;line-height:12px;font-size:8.2px;color:#fff;transform:translateY(0.17px) rotate(0.04deg) scaleX(0.9195);-webkit-text-stroke:0.25px #fff;">Return</span>
<span class="t" style="left:22px;top:107px;height:12px;line-height:12px;font-size:8.3px;color:#fff;transform:translateY(0.70px) rotate(0.04deg) scaleX(0.8529);font-weight:700;">Filters:</span>
<span class="t" style="left:56.5px;top:109px;height:12px;line-height:12px;font-size:8.2px;color:#1c2230;transform:translateY(0.57px) rotate(0.04deg) scaleX(0.7890);font-weight:700;">1</span>
<span class="t" style="left:85.8px;top:107px;height:12px;line-height:12px;font-size:8.3px;color:#fff;transform:translateY(0.66px) rotate(0.04deg) scaleX(0.8389);font-weight:700;">Enable All</span>
<span class="t" style="left:145.8px;top:107px;height:12px;line-height:12px;font-size:8.3px;color:#fff;transform:translateY(0.67px) rotate(0.04deg) scaleX(0.8261);font-weight:700;">Disable All</span>
<span class="t" style="left:207px;top:107px;height:12px;line-height:12px;font-size:8.3px;color:#fff;transform:translateY(0.66px) rotate(0.04deg) scaleX(0.8376);font-weight:700;">Remove All</span>
<span class="t" style="left:270.8px;top:107px;height:12px;line-height:12px;font-size:8.3px;color:#fff;transform:translateY(0.69px) rotate(0.04deg) scaleX(0.8174);font-weight:700;">Restore Filters</span>
<span class="t" style="left:345px;top:107px;height:12px;line-height:12px;font-size:8.3px;color:#fff;transform:translateY(0.66px) rotate(0.04deg) scaleX(0.8389);font-weight:700;">Remember Filters</span>
<span class="t" style="left:13.1px;top:143px;height:11px;line-height:11px;font-size:7.8px;color:#8e8e8e;transform:translateY(0.86px) rotate(0.04deg) scaleX(0.8557);">Search...</span>
<span class="t" style="left:134.6px;top:155px;height:12px;line-height:12px;font-size:8.2px;color:#3c3c3c;transform:translateY(0.29px) rotate(0.04deg) scaleX(0.8992);-webkit-text-stroke:0.18px #3c3c3c;">View Detail</span>
<span class="t" style="left:187.8px;top:155px;height:12px;line-height:12px;font-size:8.2px;color:#3c3c3c;transform:translateY(0.29px) rotate(0.04deg) scaleX(0.8646);-webkit-text-stroke:0.18px #3c3c3c;">Pin Resource</span>
<span class="t" style="left:246.8px;top:155px;height:12px;line-height:12px;font-size:8.2px;color:#3c3c3c;transform:translateY(0.28px) rotate(0.04deg) scaleX(0.8747);-webkit-text-stroke:0.18px #3c3c3c;">Expand</span>
<span class="t" style="left:286.1px;top:155px;height:12px;line-height:12px;font-size:8.2px;color:#3c3c3c;transform:translateY(0.29px) rotate(0.04deg) scaleX(0.9008);-webkit-text-stroke:0.18px #3c3c3c;">Collapse</span>
<span class="t" style="left:331.8px;top:155px;height:12px;line-height:12px;font-size:8.2px;color:#3c3c3c;transform:translateY(0.30px) rotate(0.04deg) scaleX(0.9515);-webkit-text-stroke:0.18px #3c3c3c;">Today</span>
<span class="t" style="left:367.8px;top:155px;height:12px;line-height:12px;font-size:8.2px;color:#3c3c3c;transform:translateY(0.26px) rotate(0.04deg) scaleX(0.9389);-webkit-text-stroke:0.18px #3c3c3c;">Fit Timeline</span>
<span class="t" style="left:419.1px;top:137px;height:12px;line-height:12px;font-size:8.2px;color:#3c3c3c;transform:translateY(0.18px) rotate(0.04deg) scaleX(0.8240);-webkit-text-stroke:0.18px #3c3c3c;">Day</span>
<span class="t" style="left:444.6px;top:137px;height:12px;line-height:12px;font-size:8.2px;color:#3c3c3c;transform:translateY(0.17px) rotate(0.04deg) scaleX(0.8662);-webkit-text-stroke:0.18px #3c3c3c;">Week</span>
<span class="t" style="left:472.8px;top:137px;height:12px;line-height:12px;font-size:8.2px;color:#3c3c3c;transform:translateY(0.16px) rotate(0.04deg) scaleX(0.9356);-webkit-text-stroke:0.18px #3c3c3c;">Month</span>
<span class="t" style="left:507.6px;top:137px;height:12px;line-height:12px;font-size:8.2px;color:#3c3c3c;transform:translateY(0.17px) rotate(0.04deg) scaleX(0.9231);-webkit-text-stroke:0.18px #3c3c3c;">Qtr</span>
<span class="t" style="left:531.9px;top:155px;height:12px;line-height:12px;font-size:8.2px;color:#454545;transform:translateY(0.25px) rotate(0.04deg) scaleX(0.8210);font-weight:700;">Hide Resource Requests</span>
<span class="t" style="left:150.3px;top:140px;height:8px;line-height:8px;font-size:4.6px;color:#7a7a7a;transform:translateY(0.83px) rotate(0.04deg) scaleX(0.8511);font-weight:700;font-style:italic;">SF</span>
<span class="t" style="left:576.5px;top:132px;height:8px;line-height:8px;font-size:4.6px;color:#c98f10;transform:translateY(0.42px) rotate(0.04deg) scaleX(0.8533);font-weight:700;">?</span>
<span class="t" style="left:7.6px;top:178px;height:12px;line-height:12px;font-size:8.0px;color:#3e3e3e;transform:translateY(0.05px) rotate(0.04deg) scaleX(0.8893);font-weight:700;">Full Name</span>
<span class="t" style="left:130.6px;top:178px;height:12px;line-height:12px;font-size:8.0px;color:#3e3e3e;transform:translateY(0.06px) rotate(0.04deg) scaleX(0.8460);font-weight:700;">Resource Role</span>
<span class="t" style="left:192.2px;top:178px;height:12px;line-height:12px;font-size:8.0px;color:#3e3e3e;transform:translateY(0.06px) rotate(0.04deg) scaleX(0.8724);font-weight:700;">Region Name</span>
<span class="t" style="left:253.6px;top:178px;height:12px;line-height:12px;font-size:8.0px;color:#3e3e3e;transform:translateY(0.05px) rotate(0.04deg) scaleX(0.8916);font-weight:700;">Start Date</span>
<span class="t" style="left:33.6px;top:200px;height:11px;line-height:11px;font-size:7.9px;color:#444;transform:translateY(0.99px) rotate(0.04deg) scaleX(0.9245);">Anne Brogan</span>
<span class="t" style="left:130.6px;top:200px;height:11px;line-height:11px;font-size:7.9px;color:#444;transform:translateY(0.99px) rotate(0.04deg) scaleX(0.9779);">Consultant</span>
<span class="t" style="left:192.2px;top:201px;height:11px;line-height:11px;font-size:7.9px;color:#444;transform:translateY(0.01px) rotate(0.04deg) scaleX(0.9532);">Edinburgh</span>
<span class="t" style="left:33.6px;top:215px;height:11px;line-height:11px;font-size:7.9px;color:#444;transform:translateY(0.00px) rotate(0.04deg) scaleX(0.9541);">Beth Horn</span>
<span class="t" style="left:130.6px;top:214px;height:11px;line-height:11px;font-size:7.9px;color:#444;transform:translateY(0.99px) rotate(0.04deg) scaleX(0.9432);">Trainer</span>
<span class="t" style="left:192.2px;top:214px;height:11px;line-height:11px;font-size:7.9px;color:#444;transform:translateY(0.99px) rotate(0.04deg) scaleX(0.9375);">United States*</span>
<span class="t" style="left:33.6px;top:228px;height:11px;line-height:11px;font-size:7.9px;color:#444;transform:translateY(0.99px) rotate(0.04deg) scaleX(0.9310);">Bill Mays</span>
<span class="t" style="left:130.6px;top:228px;height:11px;line-height:11px;font-size:7.9px;color:#444;transform:translateY(0.99px) rotate(0.04deg) scaleX(0.9385);">Business Anal...</span>
<span class="t" style="left:192.2px;top:228px;height:11px;line-height:11px;font-size:7.9px;color:#444;transform:translateY(0.73px) rotate(0.04deg) scaleX(0.9532);">Edinburgh</span>
<span class="t" style="left:33.6px;top:242px;height:11px;line-height:11px;font-size:7.9px;color:#444;transform:translateY(0.73px) rotate(0.04deg) scaleX(0.9355);">Bob Grove</span>
<span class="t" style="left:130.6px;top:242px;height:11px;line-height:11px;font-size:7.9px;color:#444;transform:translateY(0.72px) rotate(0.04deg) scaleX(0.9222);">Project Manager</span>
<span class="t" style="left:192.2px;top:242px;height:11px;line-height:11px;font-size:7.9px;color:#444;transform:translateY(0.73px) rotate(0.04deg) scaleX(0.9375);">United States*</span>
<span class="t" style="left:33.6px;top:256px;height:11px;line-height:11px;font-size:7.9px;color:#444;transform:translateY(0.73px) rotate(0.04deg) scaleX(0.9541);">Denny Young</span>
<span class="t" style="left:130.6px;top:256px;height:11px;line-height:11px;font-size:7.9px;color:#444;transform:translateY(0.73px) rotate(0.04deg) scaleX(0.9385);">Business Anal...</span>
<span class="t" style="left:192.2px;top:256px;height:11px;line-height:11px;font-size:7.9px;color:#444;transform:translateY(0.74px) rotate(0.04deg) scaleX(0.9375);">United States*</span>
<span class="t" style="left:33.6px;top:270px;height:11px;line-height:11px;font-size:7.9px;color:#444;transform:translateY(0.73px) rotate(0.04deg) scaleX(0.9245);">Ed Smith</span>
<span class="t" style="left:130.6px;top:270px;height:11px;line-height:11px;font-size:7.9px;color:#444;transform:translateY(0.73px) rotate(0.04deg) scaleX(0.9779);">Consultant</span>
<span class="t" style="left:192.2px;top:270px;height:11px;line-height:11px;font-size:7.9px;color:#444;transform:translateY(0.73px) rotate(0.04deg) scaleX(0.9532);">Edinburgh</span>
<span class="t" style="left:44.8px;top:284px;height:11px;line-height:11px;font-size:7.9px;color:#444;transform:translateY(0.66px) rotate(0.04deg) scaleX(0.9838);">Primatech - Installati...</span>
<span class="t" style="left:254px;top:284px;height:11px;line-height:11px;font-size:7.6px;color:#444;transform:translateY(0.65px) rotate(0.04deg) scaleX(0.9549);">03/09/2014</span>
<span class="t" style="left:33.6px;top:298px;height:11px;line-height:11px;font-size:7.9px;color:#444;transform:translateY(0.68px) rotate(0.04deg) scaleX(0.9187);">George Marshall</span>
<span class="t" style="left:130.6px;top:298px;height:11px;line-height:11px;font-size:7.9px;color:#444;transform:translateY(0.67px) rotate(0.04deg) scaleX(0.9222);">Project Manager</span>
<span class="t" style="left:192.2px;top:298px;height:11px;line-height:11px;font-size:7.9px;color:#444;transform:translateY(0.67px) rotate(0.04deg) scaleX(0.9532);">Edinburgh</span>
<span class="t" style="left:33.6px;top:312px;height:11px;line-height:11px;font-size:7.9px;color:#444;transform:translateY(0.40px) rotate(0.04deg) scaleX(0.9434);">John Wagner</span>
<span class="t" style="left:130.6px;top:312px;height:11px;line-height:11px;font-size:7.9px;color:#444;transform:translateY(0.41px) rotate(0.04deg) scaleX(0.9385);">Business Anal...</span>
<span class="t" style="left:192.2px;top:312px;height:11px;line-height:11px;font-size:7.9px;color:#444;transform:translateY(0.42px) rotate(0.04deg) scaleX(0.9375);">United States*</span>
<span class="t" style="left:33.6px;top:326px;height:11px;line-height:11px;font-size:7.9px;color:#444;transform:translateY(0.32px) rotate(0.04deg) scaleX(0.9121);">Lewis Wilson</span>
<span class="t" style="left:130.6px;top:326px;height:11px;line-height:11px;font-size:7.9px;color:#444;transform:translateY(0.33px) rotate(0.04deg) scaleX(0.9385);">Business Anal...</span>
<span class="t" style="left:192.2px;top:326px;height:11px;line-height:11px;font-size:7.9px;color:#444;transform:translateY(0.34px) rotate(0.04deg) scaleX(0.9375);">United States*</span>
<span class="t" style="left:33.6px;top:340px;height:11px;line-height:11px;font-size:7.9px;color:#444;transform:translateY(0.29px) rotate(0.04deg) scaleX(0.9206);">Lisa Medley*</span>
<span class="t" style="left:130.6px;top:340px;height:11px;line-height:11px;font-size:7.9px;color:#444;transform:translateY(0.26px) rotate(0.04deg) scaleX(0.9222);">Project Manager</span>
<span class="t" style="left:192.2px;top:340px;height:11px;line-height:11px;font-size:7.9px;color:#444;transform:translateY(0.27px) rotate(0.04deg) scaleX(0.9375);">United States*</span>
<span class="t" style="left:33.6px;top:354px;height:11px;line-height:11px;font-size:7.9px;color:#444;transform:translateY(0.21px) rotate(0.04deg) scaleX(0.9314);">Mary Jones</span>
<span class="t" style="left:130.6px;top:354px;height:11px;line-height:11px;font-size:7.9px;color:#444;transform:translateY(0.19px) rotate(0.04deg) scaleX(0.9432);">Trainer</span>
<span class="t" style="left:192.2px;top:354px;height:11px;line-height:11px;font-size:7.9px;color:#444;transform:translateY(0.21px) rotate(0.04deg) scaleX(0.9532);">Edinburgh</span>
<span class="t" style="left:33.6px;top:368px;height:11px;line-height:11px;font-size:7.9px;color:#444;transform:translateY(0.13px) rotate(0.04deg) scaleX(0.9596);">Tim Marklein*</span>
<span class="t" style="left:130.6px;top:368px;height:11px;line-height:11px;font-size:7.9px;color:#444;transform:translateY(0.13px) rotate(0.04deg) scaleX(0.9222);">Project Manager</span>
<span class="t" style="left:192.2px;top:368px;height:11px;line-height:11px;font-size:7.9px;color:#444;transform:translateY(0.13px) rotate(0.04deg) scaleX(0.9375);">United States*</span>
<span class="t" style="left:308.7px;top:170px;height:11px;line-height:11px;font-size:7.8px;color:#555;transform:translateY(0.91px) rotate(0.04deg) scaleX(0.9044);clip-path:inset(0 0 0 2.2px);">2014</span>
<span class="t" style="left:613.8px;top:170px;height:11px;line-height:11px;font-size:7.8px;color:#444;transform:translateY(0.90px) rotate(0.04deg) scaleX(0.8865);">Sep 2014</span>
<span class="t" style="left:318.59px;top:185px;height:11px;line-height:11px;font-size:7.8px;color:#444;transform:translateY(0.28px) rotate(0.04deg) scaleX(0.9014);">17 Aug</span>
<span class="t" style="left:391.79999999999995px;top:185px;height:11px;line-height:11px;font-size:7.8px;color:#444;transform:translateY(0.28px) rotate(0.04deg) scaleX(0.9014);">24 Aug</span>
<span class="t" style="left:465.00999999999993px;top:185px;height:11px;line-height:11px;font-size:7.8px;color:#444;transform:translateY(0.28px) rotate(0.04deg) scaleX(0.9014);">31 Aug</span>
<span class="t" style="left:538.22px;top:185px;height:11px;line-height:11px;font-size:7.8px;color:#444;transform:translateY(0.27px) rotate(0.04deg) scaleX(0.8617);">07 Sep</span>
<span class="t" style="left:611.4300000000001px;top:185px;height:11px;line-height:11px;font-size:7.8px;color:#444;transform:translateY(0.27px) rotate(0.04deg) scaleX(0.8617);">14 Sep</span>
<span class="t" style="left:684.64px;top:185px;height:11px;line-height:11px;font-size:7.8px;color:#444;transform:translateY(0.27px) rotate(0.04deg) scaleX(0.8617);">21 Sep</span>
<span class="t" style="left:757.85px;top:185px;height:11px;line-height:11px;font-size:7.8px;color:#444;transform:translateY(0.27px) rotate(0.04deg) scaleX(0.8617);">28 Sep</span>
<span class="t" style="left:346.88500000000005px;top:200px;height:10px;line-height:10px;font-size:6.6px;color:#574800;transform:translateY(0.14px) rotate(0.04deg) scaleX(0.9804);font-weight:700;">8</span>
<span class="t" style="left:420.055px;top:200px;height:10px;line-height:10px;font-size:6.6px;color:#574800;transform:translateY(0.14px) rotate(0.04deg) scaleX(0.9804);font-weight:700;">8</span>
<span class="t" style="left:493.225px;top:200px;height:10px;line-height:10px;font-size:6.6px;color:#574800;transform:translateY(0.14px) rotate(0.04deg) scaleX(0.9804);font-weight:700;">8</span>
<span class="t" style="left:566.3950000000001px;top:200px;height:10px;line-height:10px;font-size:6.6px;color:#574800;transform:translateY(0.14px) rotate(0.04deg) scaleX(0.9804);font-weight:700;">8</span>
<span class="t" style="left:639.5650000000002px;top:200px;height:10px;line-height:10px;font-size:6.6px;color:#574800;transform:translateY(0.14px) rotate(0.04deg) scaleX(0.9804);font-weight:700;">8</span>
<span class="t" style="left:696.975px;top:200px;height:10px;line-height:10px;font-size:6.6px;color:#574800;transform:translateY(0.14px) rotate(0.04deg) scaleX(0.9804);font-weight:700;">5</span>
<span class="t" style="left:345.08500000000004px;top:214px;height:10px;line-height:10px;font-size:6.6px;color:#fff;transform:translateY(0.13px) rotate(0.04deg) scaleX(0.9804);font-weight:700;">40</span>
<span class="t" style="left:418.255px;top:214px;height:10px;line-height:10px;font-size:6.6px;color:#fff;transform:translateY(0.13px) rotate(0.04deg) scaleX(0.9804);font-weight:700;">40</span>
<span class="t" style="left:491.425px;top:214px;height:10px;line-height:10px;font-size:6.6px;color:#574800;transform:translateY(0.13px) rotate(0.04deg) scaleX(0.9804);font-weight:700;">20</span>
<span class="t" style="left:554.005px;top:214px;height:10px;line-height:10px;font-size:6.6px;color:#574800;transform:translateY(0.13px) rotate(0.04deg) scaleX(0.9804);font-weight:700;">16</span>
<span class="t" style="left:345.08500000000004px;top:228px;height:10px;line-height:10px;font-size:6.6px;color:#574800;transform:translateY(0.08px) rotate(0.04deg) scaleX(0.9804);font-weight:700;">20</span>
<span class="t" style="left:418.255px;top:228px;height:10px;line-height:10px;font-size:6.6px;color:#574800;transform:translateY(0.08px) rotate(0.04deg) scaleX(0.9804);font-weight:700;">20</span>
<span class="t" style="left:491.425px;top:228px;height:10px;line-height:10px;font-size:6.6px;color:#574800;transform:translateY(0.08px) rotate(0.04deg) scaleX(0.9804);font-weight:700;">20</span>
<span class="t" style="left:564.595px;top:228px;height:10px;line-height:10px;font-size:6.6px;color:#574800;transform:translateY(0.08px) rotate(0.04deg) scaleX(0.9804);font-weight:700;">20</span>
<span class="t" style="left:632.84px;top:228px;height:10px;line-height:10px;font-size:6.6px;color:#574800;transform:translateY(0.08px) rotate(0.04deg) scaleX(0.9804);font-weight:700;">20</span>
<span class="t" style="left:346.88500000000005px;top:242px;height:10px;line-height:10px;font-size:6.6px;color:#574800;transform:translateY(0.07px) rotate(0.04deg) scaleX(0.9804);font-weight:700;">8</span>
<span class="t" style="left:420.055px;top:242px;height:10px;line-height:10px;font-size:6.6px;color:#574800;transform:translateY(0.07px) rotate(0.04deg) scaleX(0.9804);font-weight:700;">8</span>
<span class="t" style="left:493.225px;top:242px;height:10px;line-height:10px;font-size:6.6px;color:#574800;transform:translateY(0.07px) rotate(0.04deg) scaleX(0.9804);font-weight:700;">6</span>
<span class="t" style="left:566.3950000000001px;top:242px;height:10px;line-height:10px;font-size:6.6px;color:#574800;transform:translateY(0.07px) rotate(0.04deg) scaleX(0.9804);font-weight:700;">8</span>
<span class="t" style="left:639.3900000000001px;top:242px;height:10px;line-height:10px;font-size:6.6px;color:#574800;transform:translateY(0.07px) rotate(0.04deg) scaleX(0.9804);font-weight:700;">8</span>
<span class="t" style="left:345.08500000000004px;top:256px;height:10px;line-height:10px;font-size:6.6px;color:#fff;transform:translateY(0.02px) rotate(0.04deg) scaleX(0.9804);font-weight:700;">40</span>
<span class="t" style="left:418.58500000000004px;top:256px;height:10px;line-height:10px;font-size:6.6px;color:#574800;transform:translateY(0.02px) rotate(0.04deg) scaleX(0.9804);font-weight:700;">20</span>
<span class="t" style="left:345.08500000000004px;top:311px;height:10px;line-height:10px;font-size:6.6px;color:#574800;transform:translateY(0.63px) rotate(0.04deg) scaleX(0.9804);font-weight:700;">33</span>
<span class="t" style="left:402.58500000000004px;top:311px;height:10px;line-height:10px;font-size:6.6px;color:#fff;transform:translateY(0.63px) rotate(0.04deg) scaleX(0.9804);font-weight:700;">24</span>
<span class="t" style="left:346.88500000000005px;top:339px;height:10px;line-height:10px;font-size:6.6px;color:#574800;transform:translateY(0.57px) rotate(0.04deg) scaleX(0.9804);font-weight:700;">7</span>
<span class="t" style="left:420.055px;top:339px;height:10px;line-height:10px;font-size:6.6px;color:#574800;transform:translateY(0.57px) rotate(0.04deg) scaleX(0.9804);font-weight:700;">7</span>
<span class="t" style="left:493.225px;top:339px;height:10px;line-height:10px;font-size:6.6px;color:#574800;transform:translateY(0.57px) rotate(0.04deg) scaleX(0.9804);font-weight:700;">7</span>
<span class="t" style="left:566.3950000000001px;top:339px;height:10px;line-height:10px;font-size:6.6px;color:#574800;transform:translateY(0.57px) rotate(0.04deg) scaleX(0.9804);font-weight:700;">7</span>
<span class="t" style="left:639.5650000000002px;top:339px;height:10px;line-height:10px;font-size:6.6px;color:#574800;transform:translateY(0.57px) rotate(0.04deg) scaleX(0.9804);font-weight:700;">7</span>
<span class="t" style="left:712.735px;top:339px;height:10px;line-height:10px;font-size:6.6px;color:#574800;transform:translateY(0.57px) rotate(0.04deg) scaleX(0.9804);font-weight:700;">7</span>
<span class="t" style="left:765.5600000000001px;top:339px;height:10px;line-height:10px;font-size:6.6px;color:#574800;transform:translateY(0.57px) rotate(0.04deg) scaleX(0.9804);font-weight:700;">3</span>
<span class="t" style="left:345.08500000000004px;top:367px;height:10px;line-height:10px;font-size:6.6px;color:#574800;transform:translateY(0.26px) rotate(0.04deg) scaleX(0.9804);font-weight:700;">10</span>
<span class="t" style="left:418.255px;top:367px;height:10px;line-height:10px;font-size:6.6px;color:#574800;transform:translateY(0.26px) rotate(0.04deg) scaleX(0.9804);font-weight:700;">10</span>
<span class="t" style="left:491.425px;top:367px;height:10px;line-height:10px;font-size:6.6px;color:#fff;transform:translateY(0.26px) rotate(0.04deg) scaleX(0.9804);font-weight:700;">34</span>
<span class="t" style="left:564.595px;top:367px;height:10px;line-height:10px;font-size:6.6px;color:#fff;transform:translateY(0.26px) rotate(0.04deg) scaleX(0.9804);font-weight:700;">40</span>
<span class="t" style="left:637.7650000000001px;top:367px;height:10px;line-height:10px;font-size:6.6px;color:#fff;transform:translateY(0.26px) rotate(0.04deg) scaleX(0.9804);font-weight:700;">40</span>
<span class="t" style="left:710.935px;top:367px;height:10px;line-height:10px;font-size:6.6px;color:#574800;transform:translateY(0.26px) rotate(0.04deg) scaleX(0.9804);font-weight:700;">26</span>
<span class="t" style="left:765.5600000000001px;top:367px;height:10px;line-height:10px;font-size:6.6px;color:#574800;transform:translateY(0.26px) rotate(0.04deg) scaleX(0.9804);font-weight:700;">4</span>
</div>
<svg style="left:627.2px;top:188.9px" width="8" height="9" viewBox="0 0 8 9"><path d="M3.75,7.9Q1,5.4 1,3.5A2.75,2.75 0 0 1 6.5,3.5Q6.5,5.4 3.75,7.9Z" fill="#fff4f4" stroke="#e2505c" stroke-width="0.85"/></svg>
</body></html>
